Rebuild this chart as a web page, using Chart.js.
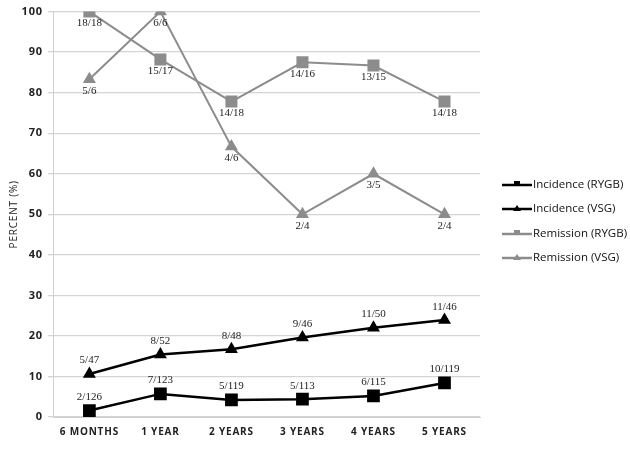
<!DOCTYPE html>
<html>
<head>
<meta charset="utf-8">
<script src="https://cdn.jsdelivr.net/npm/chart.js@4"></script>
<style>
  html, body { margin: 0; padding: 0; background: #fff; }
  #wrap { width: 630px; height: 449px; }
</style>
</head>
<body>
<div id="wrap"><canvas id="chart" width="630" height="449"></canvas></div>
<script>
"use strict";

// categories along the x axis
var periods = ['6 MONTHS', '1 YEAR', '2 YEARS', '3 YEARS', '4 YEARS', '5 YEARS'];

// percent values per series
var incidenceRygb = [1.6, 5.7, 4.2, 4.4, 5.2, 8.4];
var incidenceVsg = [10.6, 15.4, 16.7, 19.6, 22.0, 23.9];
var remissionRygb = [100, 88.2, 77.8, 87.5, 86.7, 77.8];
var remissionVsg = [83.3, 100, 66.7, 50, 60, 50];

// fraction labels printed next to each point
var incidenceRygbLabels = ['2/126', '7/123', '5/119', '5/113', '6/115', '10/119'];
var incidenceVsgLabels = ['5/47', '8/52', '8/48', '9/46', '11/50', '11/46'];
var remissionRygbLabels = ['18/18', '15/17', '14/18', '14/16', '13/15', '14/18'];
var remissionVsgLabels = ['5/6', '6/6', '4/6', '2/4', '3/5', '2/4'];

var yTicks = [0, 10, 20, 30, 40, 50, 60, 70, 80, 90, 100];

var black = '#000000';
var grey = '#8c8c8c';

// Wider letter spacing for the axis text, switched off again before the marks
var axisSpacing = {
    id: 'axisSpacing',
    beforeDraw: function (chart) { chart.ctx.letterSpacing = '0.8px'; },
    beforeDatasetsDraw: function (chart) { chart.ctx.letterSpacing = '0px'; }
};

// Draws the fraction label for every point
var pointLabels = {
    id: 'pointLabels',
    afterDatasetsDraw: function (chart) {
        var ctx = chart.ctx;
        ctx.save();
        ctx.letterSpacing = '0px';
        ctx.font = '11px "Liberation Serif", serif';
        ctx.fillStyle = '#222';
        ctx.textAlign = 'center';
        chart.data.datasets.forEach(function (ds, i) {
            var meta = chart.getDatasetMeta(i);
            meta.data.forEach(function (pt, j) {
                var text = ds.fractions[j];
                if (ds.labelBelow) {
                    ctx.textBaseline = 'top';
                    ctx.fillText(text, pt.x, pt.y + 6);
                } else {
                    ctx.textBaseline = 'bottom';
                    ctx.fillText(text, pt.x, pt.y - 8);
                }
            });
        });
        ctx.restore();
    }
};

// Legend on the right: short line with marker, then the name
var sideLegend = {
    id: 'sideLegend',
    afterDraw: function (chart) {
        var ctx = chart.ctx;
        var x0 = 502, rowY = [185, 209, 234, 258];
        ctx.save();
        ctx.letterSpacing = '0px';
        chart.data.datasets.forEach(function (ds, i) {
            var y = rowY[i];
            var mid = x0 + 15;
            ctx.strokeStyle = ds.borderColor;
            ctx.lineWidth = 2.5;
            ctx.beginPath();
            ctx.moveTo(x0, y);
            ctx.lineTo(x0 + 30, y);
            ctx.stroke();
            ctx.fillStyle = ds.borderColor;
            ctx.beginPath();
            if (ds.pointStyle === 'rect') {
                ctx.rect(mid - 3, y - 4, 6, 5);
            } else {
                ctx.moveTo(mid, y - 4);
                ctx.lineTo(mid + 4, y + 2);
                ctx.lineTo(mid - 4, y + 2);
                ctx.closePath();
            }
            ctx.fill();
            ctx.fillStyle = '#111';
            ctx.font = '11.5px "Open Sans", sans-serif';
            ctx.textAlign = 'left';
            ctx.textBaseline = 'middle';
            ctx.fillText(ds.label, x0 + 31, y);
        });
        ctx.restore();
    }
};

var chart = new Chart(document.getElementById('chart'), {
    type: 'line',
    data: {
        labels: periods,
        datasets: [{
            label: 'Incidence (RYGB)',
            data: incidenceRygb,
            fractions: incidenceRygbLabels,
            borderColor: black,
            backgroundColor: black,
            borderWidth: 2.5,
            pointStyle: 'rect',
            pointRadius: 9,
            pointBorderWidth: 0
        }, {
            label: 'Incidence (VSG)',
            data: incidenceVsg,
            fractions: incidenceVsgLabels,
            borderColor: black,
            backgroundColor: black,
            borderWidth: 2.5,
            pointStyle: 'triangle',
            pointRadius: 7.5,
            pointBorderWidth: 0
        }, {
            label: 'Remission (RYGB)',
            data: remissionRygb,
            fractions: remissionRygbLabels,
            labelBelow: true,
            borderColor: grey,
            backgroundColor: grey,
            borderWidth: 2,
            pointStyle: 'rect',
            pointRadius: 8.5,
            pointBorderWidth: 0
        }, {
            label: 'Remission (VSG)',
            data: remissionVsg,
            fractions: remissionVsgLabels,
            labelBelow: true,
            borderColor: grey,
            backgroundColor: grey,
            borderWidth: 2,
            pointStyle: 'triangle',
            pointRadius: 7.5,
            pointBorderWidth: 0
        }]
    },
    options: {
        responsive: false,
        animation: false,
        layout: { padding: { top: 8, right: 150, left: 0, bottom: 2 } },
        plugins: {
            legend: { display: false },
            tooltip: { enabled: false }
        },
        scales: {
            x: {
                offset: true,
                grid: { display: false, drawTicks: false },
                border: { color: '#d0d0d0', width: 1 },
                ticks: {
                    color: '#222',
                    padding: 9,
                    font: { family: '"Open Sans", sans-serif', size: 10, weight: 'bold' }
                }
            },
            y: {
                min: 0,
                max: 100,
                afterBuildTicks: function (axis) {
                    axis.ticks = yTicks.map(function (v) { return { value: v }; });
                },
                grid: { color: '#d4d4d4', lineWidth: 1.3, drawTicks: true, tickLength: 6 },
                border: { color: '#d0d0d0', width: 1 },
                ticks: {
                    color: '#222',
                    padding: 5,
                    font: { family: '"Open Sans", sans-serif', size: 11, weight: 'bold' }
                },
                title: {
                    display: true,
                    text: 'PERCENT (%)',
                    color: '#222',
                    padding: { top: 9, bottom: 0 },
                    font: { family: '"Open Sans", sans-serif', size: 10, lineHeight: 1 }
                }
            }
        }
    },
    plugins: [axisSpacing, pointLabels, sideLegend]
});
</script>
</body>
</html>
